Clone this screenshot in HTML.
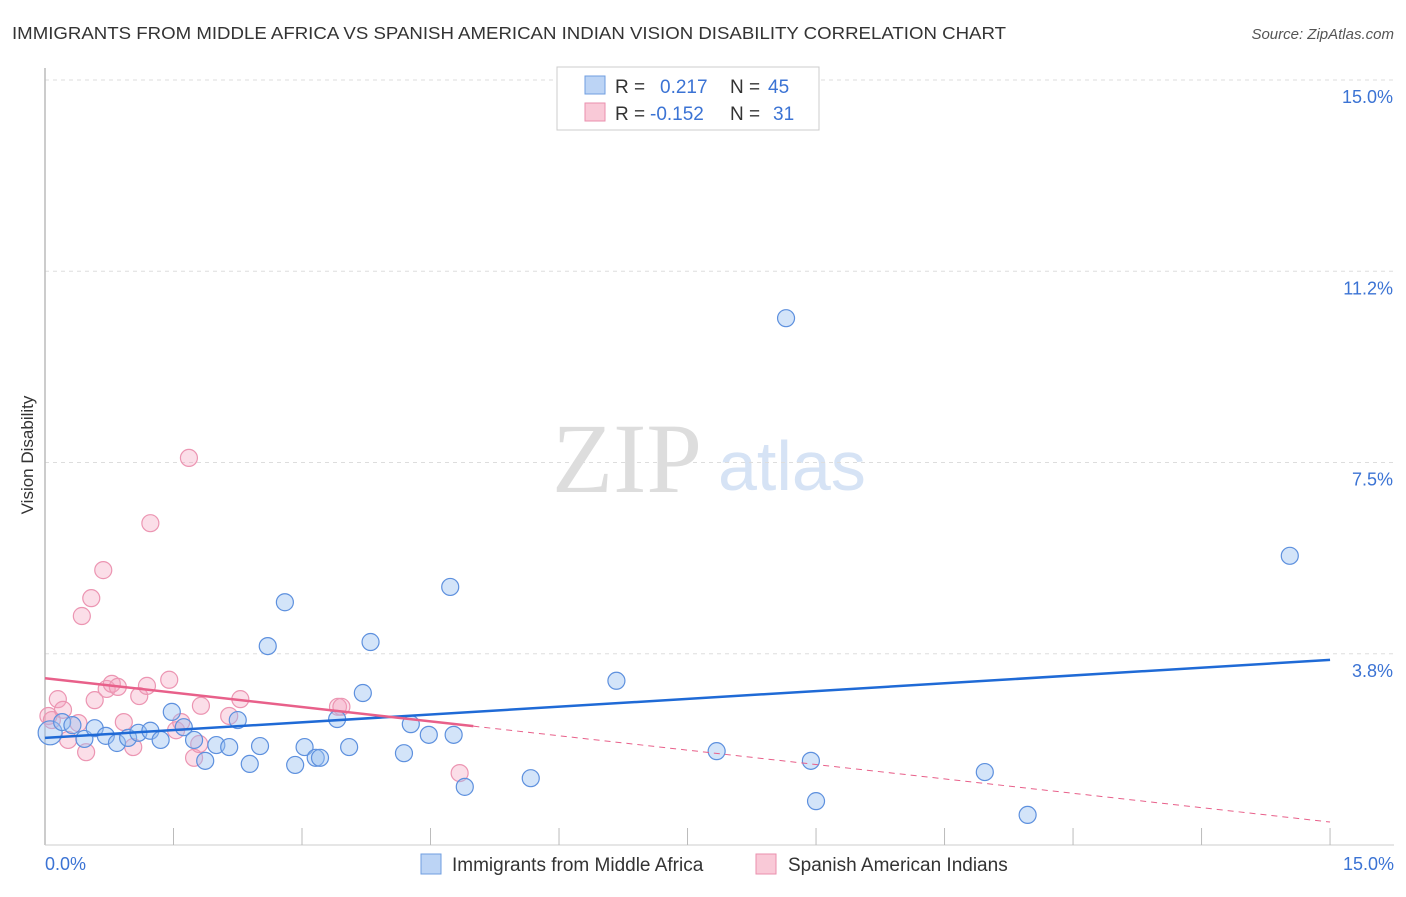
<!DOCTYPE html>
<html><head><meta charset="utf-8"><style>
body{margin:0;background:#fff;font-family:"Liberation Sans",sans-serif}
</style></head><body>
<svg id="c" width="1406" height="892" style="font-family:'Liberation Sans',sans-serif">
<text x="12" y="39" font-size="17.5" fill="#333" textLength="994" lengthAdjust="spacingAndGlyphs">IMMIGRANTS FROM MIDDLE AFRICA VS SPANISH AMERICAN INDIAN VISION DISABILITY CORRELATION CHART</text>
<text x="1394" y="39" font-size="15" fill="#555" font-style="italic" text-anchor="end">Source: ZipAtlas.com</text>
<text x="552" y="492" font-size="100" fill="#ddd" style="font-family:'Liberation Serif',serif">ZIP</text>
<text x="718" y="490" font-size="70" fill="#d6e3f5">atlas</text>
<text x="33" y="455" font-size="17" fill="#333" text-anchor="middle" transform="rotate(-90 33 455)">Vision Disability</text>
<g id="grid"></g><g id="pts"></g><g id="lines"></g>
<g>
<rect x="557" y="67" width="262" height="63" fill="#fff" stroke="#ccc"/>
<rect x="585" y="76" width="20" height="18" fill="#bcd4f5" stroke="#6f9ee0"/>
<rect x="585" y="103" width="20" height="18" fill="#f9c9d7" stroke="#ea8fae"/>
<text x="615" y="93" font-size="19" fill="#333">R = <tspan fill="#3b73d4" x="660">0.217</tspan><tspan x="730" fill="#333">N = </tspan><tspan fill="#3b73d4" x="768">45</tspan></text>
<text x="615" y="120" font-size="19" fill="#333">R = <tspan fill="#3b73d4" x="650">-0.152</tspan><tspan x="730" fill="#333">N = </tspan><tspan fill="#3b73d4" x="773">31</tspan></text>
</g>
<g>
<rect x="421" y="854" width="20" height="20" fill="#bcd4f5" stroke="#6f9ee0"/>
<text x="452" y="871" font-size="19" fill="#333">Immigrants from Middle Africa</text>
<rect x="756" y="854" width="20" height="20" fill="#f9c9d7" stroke="#ea8fae"/>
<text x="788" y="871" font-size="19" fill="#333">Spanish American Indians</text>
</g>
</svg>
<script>
const blueX=[0.06,0.20,0.32,0.46,0.58,0.71,0.84,0.97,1.09,1.23,1.35,1.48,1.62,1.74,1.87,2.00,2.15,2.25,2.39,2.51,2.60,2.80,2.92,3.03,3.16,3.21,3.41,3.55,3.71,3.80,4.19,4.27,4.48,4.73,4.77,4.90,5.67,6.67,7.84,8.65,8.94,9.00,10.97,11.47,14.53];
const blueY=[2.20,2.41,2.35,2.08,2.29,2.14,2.00,2.10,2.20,2.24,2.06,2.61,2.31,2.06,1.65,1.96,1.92,2.45,1.59,1.94,3.90,4.76,1.57,1.92,1.71,1.71,2.47,1.92,2.98,3.98,1.80,2.37,2.16,5.06,2.16,1.14,1.31,3.22,1.84,10.33,1.65,0.86,1.43,0.59,5.67];
const pinkX=[0.04,0.15,0.21,0.27,0.39,0.43,0.48,0.54,0.58,0.68,0.72,0.78,0.85,0.92,1.03,1.10,1.19,1.23,1.45,1.53,1.59,1.68,1.74,1.80,1.82,2.15,2.28,3.42,3.46,4.84,0.08];
const pinkY=[2.53,2.86,2.65,2.06,2.39,4.49,1.82,4.84,2.84,5.39,3.06,3.16,3.10,2.41,1.92,2.92,3.12,6.31,3.24,2.25,2.41,7.59,1.71,1.98,2.73,2.53,2.86,2.71,2.71,1.41,2.45];
const yTicks=[3.75,7.5,11.25,15];
const yTickLabels=["3.8%","7.5%","11.2%","15.0%"];
const xTicks=[1.5,3,4.5,6,7.5,9,10.5,12,13.5,15];
const blueTrend=[2.10,3.63];
const pinkTrend=[3.27,0.45];
const pinkSolidEnd=5.0;
const NS="http://www.w3.org/2000/svg";
const X=v=>45+v*85.67, Y=v=>845-v*51.0;
function mk(t,a,p){const e=document.createElementNS(NS,t);for(const k in a)e.setAttribute(k,a[k]);p.appendChild(e);return e;}
const g=document.getElementById('grid');
yTicks.forEach((t,i)=>{
 const l=mk('line',{x1:45,x2:1394,y1:Y(t),y2:Y(t),stroke:'#ddd','stroke-dasharray':'4,4'},g);
 
 
 const tx=mk('text',{x:1393,y:Y(t)+23,'font-size':18,fill:'#3b73d4','text-anchor':'end'},g);
 tx.textContent=yTickLabels[i];
 
 
});
const ax=mk('line',{x1:45,x2:45,y1:68,y2:845,stroke:'#bbb','stroke-width':1.5},g);


const bx=mk('line',{x1:45,x2:1394,y1:845,y2:845,stroke:'#ccc'},g);


xTicks.forEach(t=>{
 const l=mk('line',{x1:X(t),x2:X(t),y1:828,y2:845,stroke:'#bbb'},g);
 
 
});
const xl0=mk('text',{x:45,y:870,'font-size':18,fill:'#3b73d4'},g);xl0.textContent="0.0%";


const xl1=mk('text',{x:1394,y:870,'font-size':18,fill:'#3b73d4','text-anchor':'end'},g);xl1.textContent="15.0%";


const p=document.getElementById('pts');
pinkX.forEach((x,i)=>{
 const c=mk('circle',{cx:X(x),cy:Y(pinkY[i]),r:8.5,fill:'rgba(244,160,190,0.35)',stroke:'#ec95b2','stroke-width':1.2},p);
 
 
});
blueX.forEach((x,i)=>{
 const c=mk('circle',{cx:X(x),cy:Y(blueY[i]),r:i==0?12:8.5,fill:'rgba(150,190,240,0.42)',stroke:'#5d90de','stroke-width':1.2},p);
 
 
});
const L=document.getElementById('lines');
const bl=mk('line',{x1:X(0),y1:Y(blueTrend[0]),x2:X(15),y2:Y(blueTrend[1]),stroke:'#1f6ad6','stroke-width':2.5},L);


const py=v=>pinkTrend[0]+(pinkTrend[1]-pinkTrend[0])*v/15;
const ps=mk('line',{x1:X(0),y1:Y(py(0)),x2:X(pinkSolidEnd),y2:Y(py(pinkSolidEnd)),stroke:'#e8608a','stroke-width':2.5},L);


const pd=mk('line',{x1:X(pinkSolidEnd),y1:Y(py(pinkSolidEnd)),x2:X(15),y2:Y(py(15)),stroke:'#e8608a','stroke-width':1,'stroke-dasharray':'6,5'},L);


</script>
</body></html>
